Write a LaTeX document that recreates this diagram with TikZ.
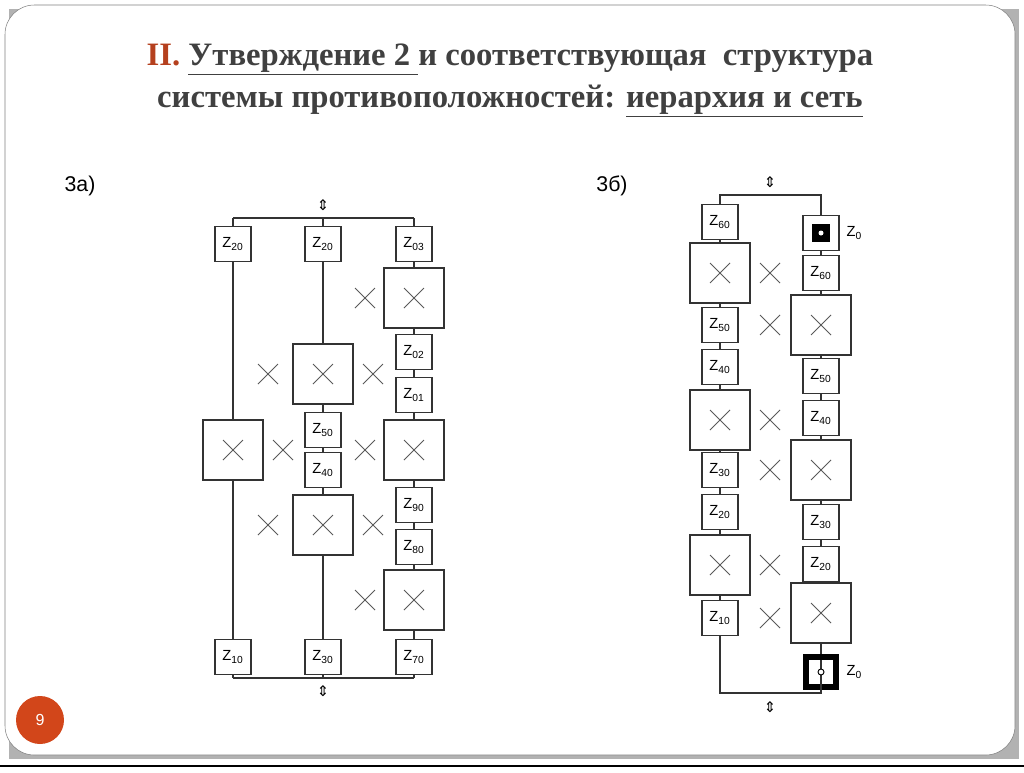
\documentclass[tikz,border=0pt]{standalone}
\usepackage{fontspec}
\setmainfont{Liberation Serif}
\setsansfont{Liberation Sans}
\newfontfamily\djv{DejaVu Sans}
\definecolor{pgc}{HTML}{D2461A}
\definecolor{ttl}{HTML}{B5401E}
\begin{document}
\begin{tikzpicture}[x=0.75pt,y=-0.75pt,
  ln/.style={draw=black!80,line width=1.1pt},
  sb/.style={ln,fill=white,minimum width=27pt,minimum height=26pt,inner sep=0pt,font=\sffamily\fontsize{11}{12}\selectfont},
  bb/.style={ln,fill=white,minimum width=45pt,minimum height=45pt,inner sep=0pt},
  xx/.style={draw=black!65,line width=0.7pt},
  arr/.style={font=\djv\fontsize{11}{12}\selectfont}]
\useasboundingbox (0,0) rectangle (1024,772);
\fill[black!30] (9,9) rectangle (1019,759);
\draw[black!50,fill=white,rounded corners=22pt] (5,5) rectangle (1015,755);
\draw[line width=2pt] (0,766) -- (1024,766);
\fill[pgc] (40,720) circle (24) node[white,font=\sffamily\fontsize{12}{12}\selectfont] (pg) {9};
% title
\node[font=\bfseries\fontsize{24.5}{31.5}\selectfont,text=black!75,align=center] (title) at (510,80)
 {\textcolor{ttl}{II.} \underline{Утверждение 2 }и соответствующая~ структура\\
  системы противоположностей: \underline{иерархия и сеть}};
\node[font=\sffamily\fontsize{16}{16}\selectfont] (la) at (80,186) {3а)};
\node[font=\sffamily\fontsize{16}{16}\selectfont] (lb) at (612,186) {3б)};
\newcommand{\crs}[2]{\draw[xx] (#1-10,#2-10) -- (#1+10,#2+10) (#1-10,#2+10) -- (#1+10,#2-10);}
\newcommand{\zz}[1]{Z\textsubscript{#1}}
% ===== left diagram
\coordinate (lt1) at (233,218); \coordinate (lt3) at (414,218);
\coordinate (lb1) at (233,678); \coordinate (lb3) at (414,678);
\node[arr] (la1) at (323,205) {⇕};
\node[arr] (la2) at (323,691) {⇕};
\draw[ln] (lt1) -- (lt3); \draw[ln] (lb1) -- (lb3);
\draw[ln] (233,218) -- (233,678);
\draw[ln] (323,218) -- (323,678);
\draw[ln] (414,218) -- (414,678);
\node[sb] (a1) at (233,244) {\zz{20}};
\node[bb] (a2) at (233,450) {};
\node[sb] (a3) at (233,657) {\zz{10}};
\node[sb] (b1) at (323,244) {\zz{20}};
\node[bb] (b2) at (323,374) {};
\node[sb] (b3) at (323,430) {\zz{50}};
\node[sb] (b4) at (323,470) {\zz{40}};
\node[bb] (b5) at (323,525) {};
\node[sb] (b6) at (323,657) {\zz{30}};
\node[sb] (c1) at (414,244) {\zz{03}};
\node[bb] (c2) at (414,298) {};
\node[sb] (c3) at (414,352) {\zz{02}};
\node[sb] (c4) at (414,395) {\zz{01}};
\node[bb] (c5) at (414,450) {};
\node[sb] (c6) at (414,505) {\zz{90}};
\node[sb] (c7) at (414,547) {\zz{80}};
\node[bb] (c8) at (414,600) {};
\node[sb] (c9) at (414,657) {\zz{70}};
\crs{233}{450}\crs{323}{374}\crs{323}{525}\crs{414}{298}\crs{414}{450}\crs{414}{600}
\crs{268}{374}\crs{373}{374}\crs{283}{450}\crs{365}{450}\crs{268}{525}\crs{373}{525}\crs{365}{298}\crs{365}{600}
% ===== right diagram
\node[arr] (ra1) at (770,182) {⇕};
\node[arr] (ra2) at (770,707) {⇕};
\draw[ln] (720,618) -- (720,693) -- (821,693) -- (821,672);
\draw[ln] (720,222) -- (720,195) -- (821,195) -- (821,672);
\draw[ln] (720,222) -- (720,618);
\node[sb] (d1) at (720,222) {\zz{60}};
\node[bb] (d2) at (720,273) {};
\node[sb] (d3) at (720,325) {\zz{50}};
\node[sb] (d4) at (720,367) {\zz{40}};
\node[bb] (d5) at (720,420) {};
\node[sb] (d6) at (720,470) {\zz{30}};
\node[sb] (d7) at (720,512) {\zz{20}};
\node[bb] (d8) at (720,565) {};
\node[sb] (d9) at (720,618) {\zz{10}};
\node[sb] (e0) at (821,233) {};
\node[fill=black,minimum size=13pt,inner sep=0pt] (e0i) at (821,233) {};
\fill[white] (e0i) circle (2.5);
\node[font=\sffamily\fontsize{11}{12}\selectfont,anchor=west] (e0l) at (842,233) {\zz{0}};
\node[sb] (e1) at (821,273) {\zz{60}};
\node[bb] (e2) at (821,325) {};
\node[sb] (e3) at (821,376) {\zz{50}};
\node[sb] (e4) at (821,418) {\zz{40}};
\node[bb] (e5) at (821,470) {};
\node[sb] (e6) at (821,522) {\zz{30}};
\node[sb] (e7) at (821,564) {\zz{20}};
\node[bb] (e8) at (821,613) {};
\node[draw=black,line width=4.5pt,minimum size=22pt,inner sep=0pt] (e9) at (821,672) {};
\draw[ln] (821,660) -- (821,693);
\draw[black,fill=white,line width=0.7pt] (e9.center) circle (3);
\node[font=\sffamily\fontsize{11}{12}\selectfont,anchor=west] (e9l) at (842,672) {\zz{0}};
\crs{720}{273}\crs{720}{420}\crs{720}{565}\crs{821}{325}\crs{821}{470}\crs{821}{613}
\crs{770}{273}\crs{770}{325}\crs{770}{420}\crs{770}{470}\crs{770}{565}\crs{770}{618}
\end{tikzpicture}
\end{document}
